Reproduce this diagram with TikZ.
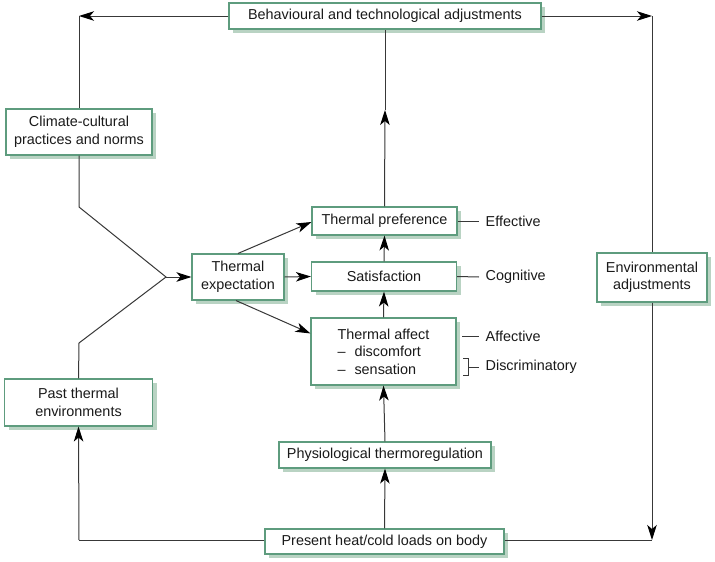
\documentclass[tikz,border=0pt]{standalone}
\usepackage{fontspec}
\setmainfont{Liberation Sans}
\usetikzlibrary{arrows.meta,shadows,calc}
\definecolor{boxc}{HTML}{5E9C7E}
\definecolor{shadc}{HTML}{B9D3C3}
\definecolor{linec}{HTML}{383838}
\definecolor{textc}{HTML}{1A1A1A}
\tikzset{
  box/.style={draw=boxc, line width=1.1pt, fill=white, inner sep=0pt, align=center,
    text=textc, font=\fontsize{14.4}{17.5}\selectfont,
    general shadow={fill=shadc, shadow xshift=4pt, shadow yshift=-4pt, draw=none}},
  conn/.style={draw=linec, line width=1pt},
  arr/.style={conn, -{Stealth[length=15pt,width=9.5pt,inset=4pt,color=black]}},
  lbl/.style={text=textc, font=\fontsize{14.4}{17.5}\selectfont, anchor=west, inner xsep=6.5pt, inner ysep=0pt}
}
\begin{document}
\begin{tikzpicture}[x=1pt,y=-1pt]
\useasboundingbox[fill=white] (0,0) rectangle (715,562);
% boxes
\node[box, minimum width=312pt, minimum height=26pt] (top) at (385,16) {Behavioural and technological adjustments};
\node[box, minimum width=146pt, minimum height=46pt] (climate) at (79,132) {Climate-cultural\\practices and norms};
\node[box, minimum width=148pt, minimum height=47pt] (past) at (78.5,402.5) {Past thermal\\environments};
\node[box, minimum width=92pt, minimum height=46pt] (exp) at (238,277) {Thermal\\expectation};
\node[box, minimum width=145pt, minimum height=28pt] (pref) at (384.5,221) {Thermal preference};
\node[box, minimum width=145pt, minimum height=29pt] (sat) at (384,276.5) {Satisfaction};
\node[box, minimum width=145pt, minimum height=67pt, align=left] (affect) at (383.5,351.5) {Thermal affect\\–\hspace{0.62em}discomfort\\–\hspace{0.62em}sensation};
\node[box, minimum width=212pt, minimum height=26pt] (physio) at (385,455) {Physiological thermoregulation};
\node[box, minimum width=239pt, minimum height=25pt] (present) at (384.5,541.5) {Present heat/cold loads on body};
\node[box, minimum width=110pt, minimum height=49pt] (env) at (652,277.5) {Environmental\\adjustments};
% coordinates
\coordinate (tl) at (79,16);
\coordinate (tr) at (652,16);
\coordinate (bl) at (79,540);
\coordinate (br) at (652,540);
\coordinate (c1) at (79,207);
\coordinate (j) at (166,277);
\coordinate (c2) at (79,343);
\coordinate (mid) at (385,110);
% left network
\draw[arr] (top.west) -- (tl);
\draw[conn] (tl) -- (climate.north);
\draw[conn] (climate.south) -- (c1) -- (j) -- (c2) -- (past.north);
\draw[arr] (j) -- (exp.west);
\draw[arr] (exp.north) -- ($(pref.west)+(0,1)$);
\draw[arr] (exp.east) -- (sat.west);
\draw[arr] ($(exp.south)+(-2,0)$) -- ($(affect.north west)+(0,16)$);
% central column
\draw[arr] (pref.north) -- (mid);
\draw[conn] (mid) -- (top.south);
\draw[arr] (sat.north) -- (pref.south);
\draw[arr] (affect.north) -- (sat.south);
\draw[arr] (physio.north) -- (affect.south);
\draw[arr] (present.north) -- (physio.south);
% bottom and right loop
\draw[conn] (present.west |- bl) -- (bl);
\draw[arr] (bl) -- (past.south);
\draw[arr] (top.east) -- (tr);
\draw[conn] (tr) -- (env.north);
\draw[arr] (env.south) -- (br);
\draw[conn] (present.east |- br) -- (br);
% labels
\node[lbl] (eff) at (479,221) {Effective};
\node[lbl] (cog) at (479,277) {Cognitive};
\node[lbl] (aff) at (479,336) {Affective};
\node[lbl] (dis) at (479,367) {Discriminatory};
\coordinate (affs) at (462,336);
\coordinate (bt) at (468,358);
\coordinate (bb) at (468,375);
\coordinate (bm) at (468,367);
\draw[conn] (pref.east) -- (eff.west);
\draw[conn] (sat.east) -- (cog.west);
\draw[conn] (affs) -- (aff.west);
\draw[conn] ($(bt)+(-5,0)$) -- (bt) -- (bb) -- ($(bb)+(-5,0)$);
\draw[conn] (bm) -- (dis.west);
\end{tikzpicture}
\end{document}
